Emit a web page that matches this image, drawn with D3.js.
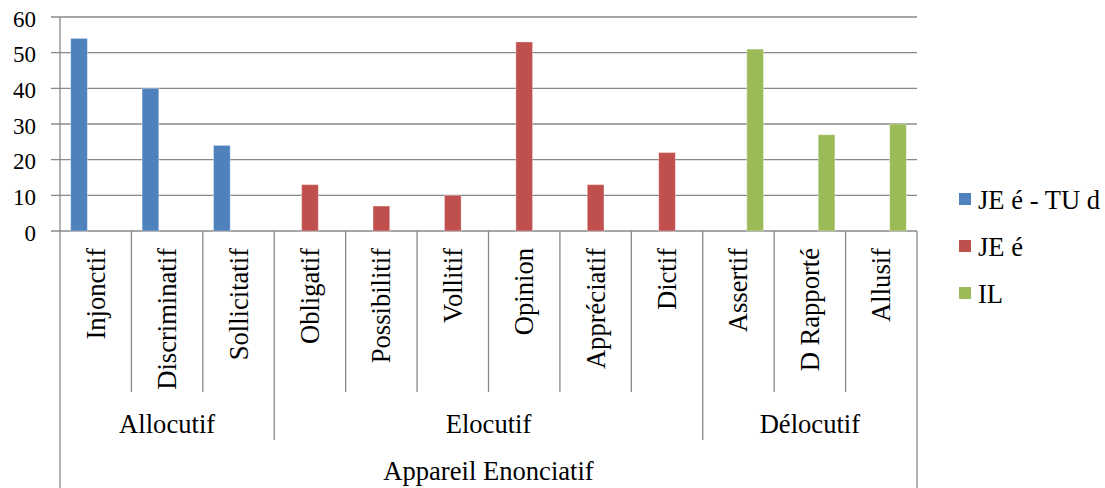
<!DOCTYPE html>
<html><head><meta charset="utf-8">
<script src="https://cdn.jsdelivr.net/npm/d3@7"></script>
<style>body{margin:0;background:#fff}svg{display:block}</style>
</head><body><svg id="c" width="1105" height="488"></svg>
<script>
const categories = ["Injonctif","Discriminatif","Sollicitatif","Obligatif","Possibilitif","Vollitif","Opinion","Appréciatif","Dictif","Assertif","D Rapporté","Allusif"];
const groups = [
  {name:"Allocutif", from:0, to:2},
  {name:"Elocutif", from:3, to:8},
  {name:"Délocutif", from:9, to:11}
];
const topLabel = "Appareil Enonciatif";
const seriesNames = ["JE é - TU d","JE é","IL"];
const seriesColors = ["#4F81BD","#C0504D","#9BBB59"];
const jeTu = [54,40,24,null,null,null,null,null,null,null,null,null];
const je   = [null,null,null,13,7,10,53,13,22,null,null,null];
const il   = [null,null,null,null,null,null,null,null,null,51,27,30];
const seriesValues = [jeTu, je, il];
const yTicks = [0,10,20,30,40,50,60];

const FONT = "Liberation Serif";
const FS = 26.6;
const svg = d3.select("#c");
const L = 60, R = 917, T = 17, B = 231;
const x = d3.scaleBand().domain(categories).range([L, R]).padding(0);
const xs = d3.scaleBand().domain(d3.range(seriesNames.length)).range([0, x.bandwidth()]).paddingInner(0).paddingOuter(0.64);
const y = d3.scaleLinear().domain([0, 60]).range([B, T]);
const grid = "#888888";

// gridlines + ticks
svg.append("g").selectAll("line").data(yTicks).join("line")
  .attr("x1", L - 9).attr("x2", R).attr("y1", d => y(d)).attr("y2", d => y(d))
  .attr("stroke", grid).attr("stroke-width", 1.3);
svg.append("g").selectAll("text").data(yTicks).join("text")
  .attr("x", 36).attr("y", d => y(d) + 2).attr("text-anchor", "end")
  .attr("font-family", FONT)
  .attr("dominant-baseline", "central").attr("font-size", 23).text(d => d);

// bars
seriesValues.forEach((vals, si) => {
  svg.append("g").selectAll("rect")
    .data(categories.map((c, i) => ({c, v: vals[i]})).filter(d => d.v != null))
    .join("rect")
    .attr("x", d => x(d.c) + xs(si)).attr("width", xs.bandwidth())
    .attr("y", d => y(d.v)).attr("height", d => y(0) - y(d.v))
    .attr("fill", seriesColors[si]).attr("stroke", "#fff").attr("stroke-opacity", 0.35).attr("stroke-width", 1);
});

// category separators
const g = svg.append("g").attr("stroke", grid).attr("stroke-width", 1.3);
const groupEdges = new Set(groups.map(d => d.from));
categories.forEach((c, i) => {
  if (i === 0) return;
  const xx = x(c);
  const bottom = groupEdges.has(i) ? 440 : 392;
  g.append("line").attr("x1", xx).attr("x2", xx).attr("y1", B).attr("y2", bottom);
});
g.append("line").attr("x1", L).attr("x2", L).attr("y1", T).attr("y2", 488);
g.append("line").attr("x1", R).attr("x2", R).attr("y1", B).attr("y2", 488);

// category labels
svg.append("g").selectAll("text").data(categories).join("text")
  .attr("transform", d => `translate(${x(d) + x.bandwidth()/2},${B + 17}) rotate(-90)`)
  .attr("text-anchor", "end").attr("dominant-baseline", "central")
  .attr("font-family", FONT).attr("font-size", FS).text(d => d);

// group labels
svg.append("g").selectAll("text").data(groups).join("text")
  .attr("x", d => (x(categories[d.from]) + x(categories[d.to]) + x.bandwidth()) / 2)
  .attr("y", 433).attr("text-anchor", "middle").attr("font-family", FONT).attr("font-size", FS).text(d => d.name);
svg.append("text").attr("x", (L + R) / 2).attr("y", 480).attr("text-anchor", "middle")
  .attr("font-family", FONT).attr("font-size", FS).text(topLabel);

// legend
const lg = svg.append("g").selectAll("g").data(seriesNames).join("g")
  .attr("transform", (d, i) => `translate(959,${199 + i * 47})`);
lg.append("rect").attr("x", 0).attr("y", -6).attr("width", 12).attr("height", 12).attr("fill", (d, i) => seriesColors[i]);
lg.append("text").attr("x", 19).attr("y", 1).attr("dominant-baseline", "central")
  .attr("font-family", FONT).attr("font-size", FS).text(d => d);
</script></body></html>
